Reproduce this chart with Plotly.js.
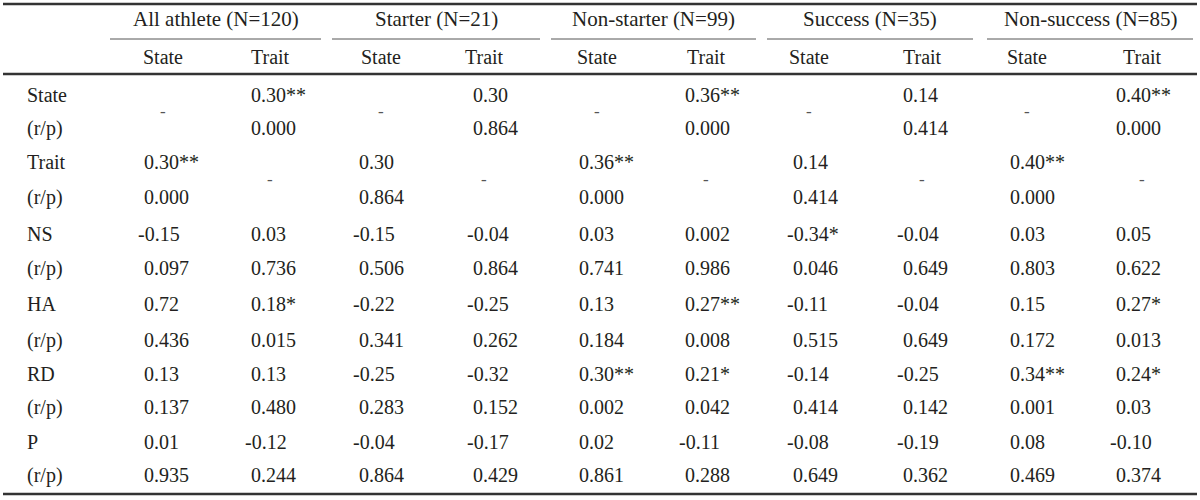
<!DOCTYPE html>
<html>
<head>
<meta charset="utf-8">
<script src="https://cdn.plot.ly/plotly-3.0.1.min.js"></script>
<style>html,body{margin:0;padding:0;background:#fff;}#chart{width:1200px;height:500px;}</style>
</head>
<body>
<div id="chart"></div>
<script>
// ---- data ----
const groups = ['All athlete (N=120)', 'Starter (N=21)', 'Non-starter (N=99)', 'Success (N=35)', 'Non-success (N=85)'];
const subCols = ['State', 'Trait'];
const rowVars = ['State', 'Trait', 'NS', 'HA', 'RD', 'P'];
const subLabel = '(r/p)';
const rState = ['-', '0.30**', '-', '0.30', '-', '0.36**', '-', '0.14', '-', '0.40**'];
const pState = ['', '0.000', '', '0.864', '', '0.000', '', '0.414', '', '0.000'];
const rTrait = ['0.30**', '-', '0.30', '-', '0.36**', '-', '0.14', '-', '0.40**', '-'];
const pTrait = ['0.000', '', '0.864', '', '0.000', '', '0.414', '', '0.000', ''];
const rNS = ['-0.15', '0.03', '-0.15', '-0.04', '0.03', '0.002', '-0.34*', '-0.04', '0.03', '0.05'];
const pNS = ['0.097', '0.736', '0.506', '0.864', '0.741', '0.986', '0.046', '0.649', '0.803', '0.622'];
const rHA = ['0.72', '0.18*', '-0.22', '-0.25', '0.13', '0.27**', '-0.11', '-0.04', '0.15', '0.27*'];
const pHA = ['0.436', '0.015', '0.341', '0.262', '0.184', '0.008', '0.515', '0.649', '0.172', '0.013'];
const rRD = ['0.13', '0.13', '-0.25', '-0.32', '0.30**', '0.21*', '-0.14', '-0.25', '0.34**', '0.24*'];
const pRD = ['0.137', '0.480', '0.283', '0.152', '0.002', '0.042', '0.414', '0.142', '0.001', '0.03'];
const rP = ['0.01', '-0.12', '-0.04', '-0.17', '0.02', '-0.11', '-0.08', '-0.19', '0.08', '-0.10'];
const pP = ['0.935', '0.244', '0.864', '0.429', '0.861', '0.288', '0.649', '0.362', '0.469', '0.374'];
const rValues = [rState, rTrait, rNS, rHA, rRD, rP];
const pValues = [pState, pTrait, pNS, pHA, pRD, pP];

// ---- layout geometry (positions only) ----
const groupSpan = [[110, 321], [332, 540], [551, 756], [767, 973], [987, 1193]];
const colCenter = [163, 270, 381, 484, 597, 706, 809, 922, 1027, 1142];
const colLeft = [142, 249, 357, 471, 577, 683, 791, 901, 1008, 1114];
const rowY = [[95, 128], [162, 197], [234, 268], [304, 340], [374, 407], [442, 475]];
const labelX = 25;
const txtColor = '#231f20';
const fontFam = '"Liberation Serif", "Times New Roman", serif';
const fs = 20;

const ann = [];
function addText(x, y, t, anchor, size, color) {
  ann.push({x: x, y: y, xref: 'x', yref: 'y', text: t, showarrow: false,
    xanchor: anchor, yanchor: 'middle',
    font: {family: fontFam, size: size || fs, color: color || txtColor}});
}
// group headers
groups.forEach((g, i) => addText((groupSpan[i][0] + groupSpan[i][1]) / 2, 19, g, 'center', 21));
// sub headers
colCenter.forEach((c, j) => addText(c, 57, subCols[j % 2], 'center'));
// rows
rowVars.forEach((v, i) => {
  const [y1, y2] = rowY[i];
  addText(labelX, y1, v, 'left');
  addText(labelX, y2, subLabel, 'left');
  rValues[i].forEach((rv, j) => {
    if (rv === '-') {
      addText(colCenter[j], (y1 + y2) / 2, '-', 'center', 17, '#555');
    } else {
      const neg = rv.startsWith('-');
      addText(colLeft[j] - (neg ? 6 : 0), y1, rv, 'left');
      const pv = pValues[i][j];
      if (pv !== '') addText(colLeft[j], y2, pv, 'left');
    }
  });
});

const shapes = [];
function hline(x0, x1, y, w, color) {
  shapes.push({type: 'line', xref: 'x', yref: 'y', x0: x0, x1: x1, y0: y, y1: y,
    line: {color: color, width: w}});
}
hline(3, 1197, 4, 2.5, '#333');
groupSpan.forEach(s => hline(s[0], s[1], 39, 1, '#555'));
hline(3, 1197, 74, 2.5, '#333');
hline(3, 1197, 494, 2.5, '#333');

const data = [{x: [], y: [], type: 'scatter', mode: 'markers', hoverinfo: 'skip', showlegend: false}];
const layout = {
  width: 1200, height: 500,
  margin: {l: 0, r: 0, t: 0, b: 0},
  paper_bgcolor: '#fff', plot_bgcolor: '#fff',
  xaxis: {range: [0, 1200], visible: false, fixedrange: true},
  yaxis: {range: [500, 0], visible: false, fixedrange: true},
  annotations: ann, shapes: shapes, showlegend: false
};
Plotly.newPlot('chart', data, layout, {staticPlot: true, displayModeBar: false});
</script>
</body>
</html>
